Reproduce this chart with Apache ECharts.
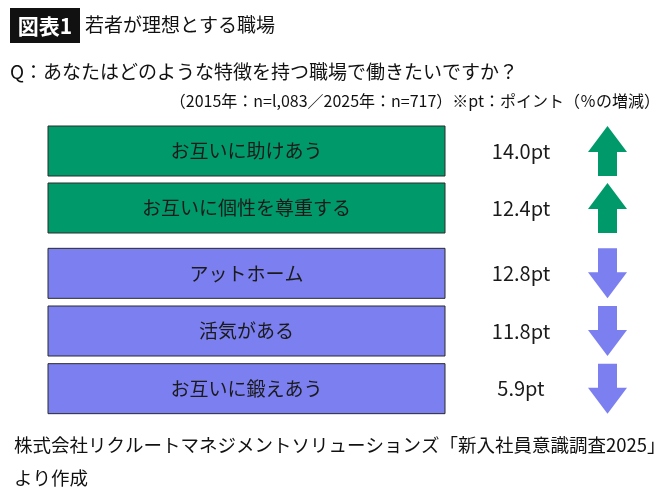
<!DOCTYPE html>
<html><head><meta charset="utf-8">
<script src="https://cdn.jsdelivr.net/npm/echarts@6/dist/echarts.min.js"></script>
<style>html,body{margin:0;padding:0;background:#fff}#c{width:670px;height:500px}</style>
</head><body><div id="c"></div>
<script>
// Data
const items = ['お互いに助けあう', 'お互いに個性を尊重する', 'アットホーム', '活気がある', 'お互いに鍛えあう'];
const changes = [14.0, 12.4, -12.8, -11.8, -5.9]; // pt（％の増減）, sign = direction
const titleTag = '図表1';
const titleText = '若者が理想とする職場';
const question = 'Q：あなたはどのような特徴を持つ職場で働きたいですか？';
const note = '（2015年：n=l,083／2025年：n=717）※pt：ポイント（％の増減）';
const source1 = '株式会社リクルートマネジメントソリューションズ「新入社員意識調査2025」';
const source2 = 'より作成';

const FONT = '"Noto Sans CJK JP", "Noto Sans", sans-serif';
const GREEN = '#00996a';
const PURPLE = '#7b7ff0';

const upItems = items.filter((_, i) => changes[i] >= 0);
const upVals = changes.filter(v => v >= 0);
const downItems = items.filter((_, i) => changes[i] < 0);
const downVals = changes.filter(v => v < 0);

function renderItem(params, api) {
  const cs = params.coordSys;
  const cy = api.coord([0, api.value(1)])[1];
  const h = 50;
  const top = cy - h / 2;
  const val = api.value(2);
  const label = params.seriesIndex === 0 ? upItems[params.dataIndex] : downItems[params.dataIndex];
  const up = val >= 0;
  const color = up ? GREEN : PURPLE;
  const bx = cs.x, bw = 397;
  const ax = cs.x + 559.5; // arrow center
  const hw = 19.5, sw = 9.5, headH = 26;
  let pts;
  if (up) {
    pts = [[ax, top], [ax + hw, top + headH], [ax + sw, top + headH], [ax + sw, top + h],
           [ax - sw, top + h], [ax - sw, top + headH], [ax - hw, top + headH]];
  } else {
    const bot = top + h;
    pts = [[ax, bot], [ax + hw, bot - headH], [ax + sw, bot - headH], [ax + sw, top],
           [ax - sw, top], [ax - sw, bot - headH], [ax - hw, bot - headH]];
  }
  return {
    type: 'group',
    children: [
      { type: 'rect', shape: { x: bx, y: top, width: bw, height: h },
        style: { fill: color, stroke: '#2a2a2a', lineWidth: 1 } },
      { type: 'text', style: { text: label, x: bx + bw / 2, y: cy, align: 'center', verticalAlign: 'middle',
        fill: '#1a1a1a', fontSize: 19, fontFamily: FONT } },
      { type: 'text', style: { text: Math.abs(val).toFixed(1) + 'pt', x: cs.x + 473, y: cy, align: 'center', verticalAlign: 'middle',
        fill: '#1a1a1a', fontSize: 20, fontFamily: FONT } },
      { type: 'polygon', shape: { points: pts }, style: { fill: color } }
    ]
  };
}

const chart = echarts.init(document.getElementById('c'), null, { renderer: 'canvas' });
chart.setOption({
  backgroundColor: '#fff',
  animation: false,
  grid: [
    { left: 48, right: 20, top: 122.5, height: 114 },
    { left: 48, right: 20, top: 244.5, height: 173 }
  ],
  xAxis: [
    { gridIndex: 0, type: 'value', min: 0, max: 1, show: false },
    { gridIndex: 1, type: 'value', min: 0, max: 1, show: false }
  ],
  yAxis: [
    { gridIndex: 0, type: 'category', data: upItems, inverse: true, show: false },
    { gridIndex: 1, type: 'category', data: downItems, inverse: true, show: false }
  ],
  series: [
    { type: 'custom', xAxisIndex: 0, yAxisIndex: 0, renderItem, encode: { x: 0, y: 1 },
      data: upItems.map((n, i) => [0, i, upVals[i]]) },
    { type: 'custom', xAxisIndex: 1, yAxisIndex: 1, renderItem, encode: { x: 0, y: 1 },
      data: downItems.map((n, i) => [0, i, downVals[i]]) }
  ],
  graphic: [
    { type: 'rect', shape: { x: 10, y: 8, width: 70, height: 35 }, style: { fill: '#111' } },
    { type: 'text', style: { text: titleTag, x: 45, y: 26, align: 'center', verticalAlign: 'middle',
      fill: '#fff', fontSize: 21, fontWeight: 'bold', fontFamily: FONT } },
    { type: 'text', style: { text: titleText, x: 85, y: 25, verticalAlign: 'middle',
      fill: '#111', fontSize: 19, fontFamily: FONT } },
    { type: 'text', style: { text: question, x: 10, y: 72, verticalAlign: 'middle',
      fill: '#111', fontSize: 19, fontFamily: FONT } },
    { type: 'text', style: { text: note, x: 660, y: 101, align: 'right', verticalAlign: 'middle',
      fill: '#111', fontSize: 16, fontFamily: FONT } },
    { type: 'text', style: { text: source1, x: 14, y: 445, verticalAlign: 'middle',
      fill: '#111', fontSize: 18.5, fontFamily: FONT } },
    { type: 'text', style: { text: source2, x: 14, y: 478, verticalAlign: 'middle',
      fill: '#111', fontSize: 18.5, fontFamily: FONT } }
  ]
});
</script></body></html>
